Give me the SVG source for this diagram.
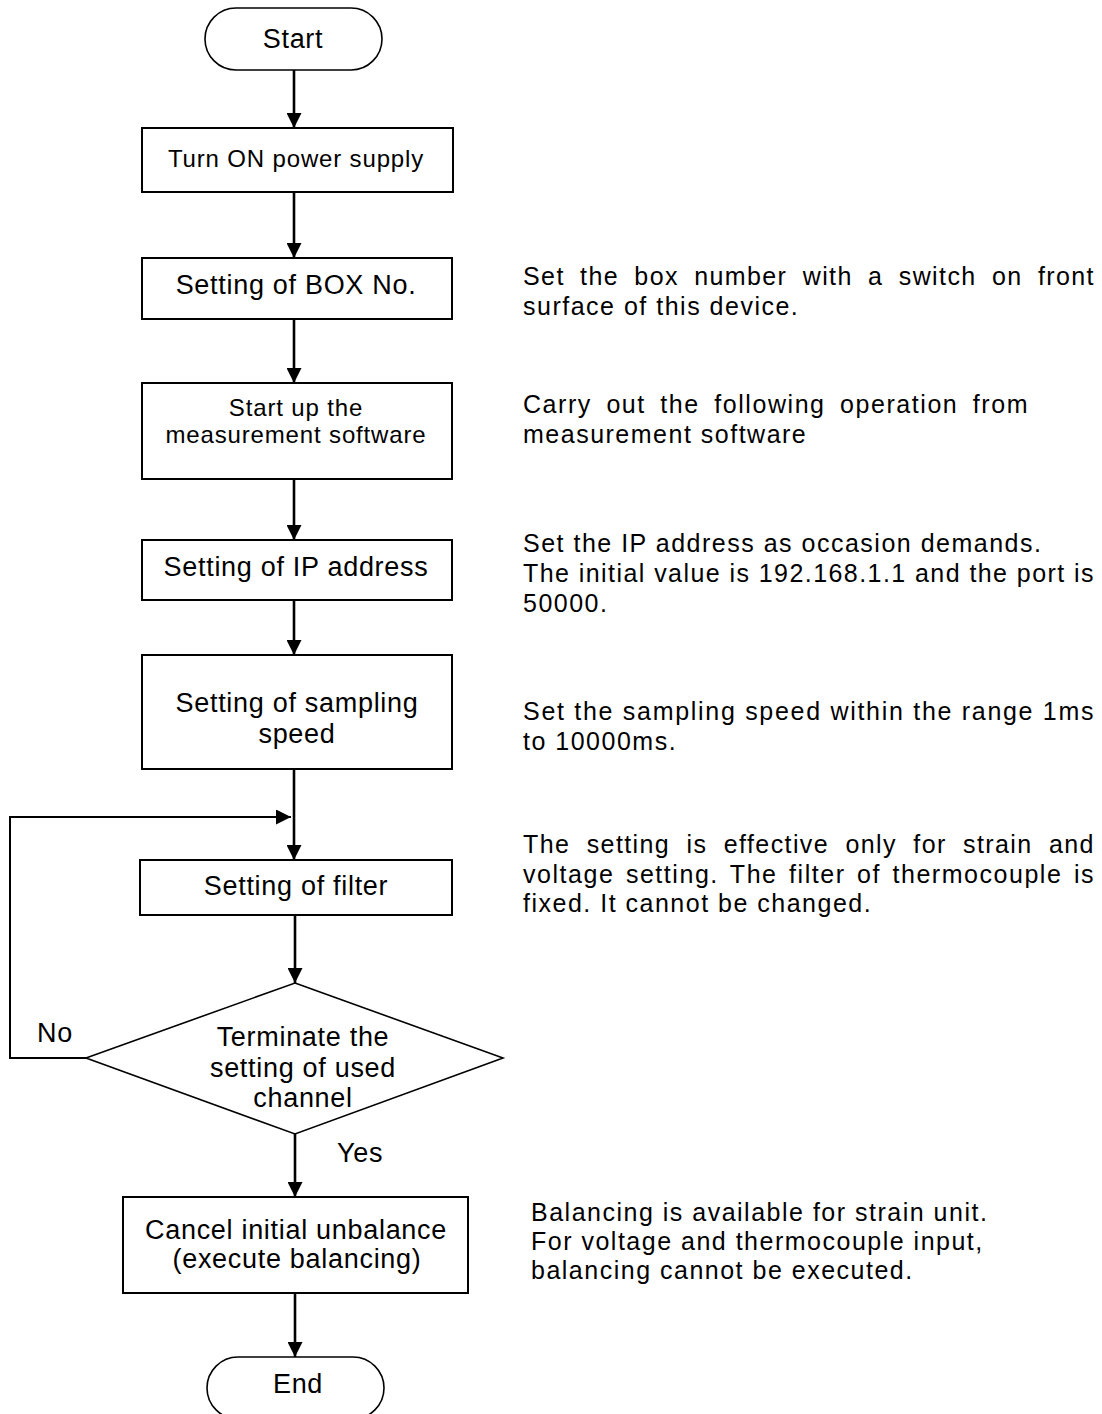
<svg xmlns="http://www.w3.org/2000/svg" width="1102" height="1414" viewBox="0 0 1102 1414">
<style>
text{font-family:"Liberation Sans",Arial,sans-serif;fill:#000}
.bt{font-size:27px;letter-spacing:0.7px;text-anchor:middle}
.st{font-size:24px;letter-spacing:0.85px;text-anchor:middle}
.side{font-size:25px;letter-spacing:1.5px}
.box{fill:#fff;stroke:#000;stroke-width:2}
.pill{fill:#fff;stroke:#000;stroke-width:1.6}
.flow{fill:none;stroke:#000;stroke-width:2.6}
.loop{fill:none;stroke:#000;stroke-width:2}
</style>
<defs>
<marker id="ah" markerUnits="userSpaceOnUse" viewBox="0 0 15 15" refX="15" refY="7.5" markerWidth="15" markerHeight="15" orient="auto">
<path d="M0,0 L15,7.5 L0,15 z" fill="#000"/>
</marker>
</defs>
<g id="connectors">
<line class="flow" x1="294" y1="70" x2="294" y2="128" marker-end="url(#ah)"/>
<line class="flow" x1="294" y1="192" x2="294" y2="258" marker-end="url(#ah)"/>
<line class="flow" x1="294" y1="319" x2="294" y2="383" marker-end="url(#ah)"/>
<line class="flow" x1="294" y1="479" x2="294" y2="540" marker-end="url(#ah)"/>
<line class="flow" x1="294" y1="600" x2="294" y2="655" marker-end="url(#ah)"/>
<line class="flow" x1="294" y1="769" x2="294" y2="860" marker-end="url(#ah)"/>
<line class="flow" x1="295" y1="915" x2="295" y2="983" marker-end="url(#ah)"/>
<line class="flow" x1="295" y1="1134" x2="295" y2="1197" marker-end="url(#ah)"/>
<line class="flow" x1="295" y1="1293" x2="295" y2="1357" marker-end="url(#ah)"/>
<polyline class="loop" points="86,1058 10,1058 10,817 291,817" marker-end="url(#ah)"/>
<text x="37" y="1042" class="bt" style="text-anchor:start">No</text>
<text x="337" y="1162" class="bt" style="text-anchor:start">Yes</text>
</g>
<g id="start">
<rect class="pill" x="205" y="8" width="177" height="62" rx="31" ry="31"/>
<text x="293" y="48" class="bt">Start</text>
</g>
<g id="power">
<rect class="box" x="142" y="128" width="311" height="64"/>
<text x="296" y="167" class="st">Turn ON power supply</text>
</g>
<g id="boxno">
<rect class="box" x="142" y="258" width="310" height="61"/>
<text x="296" y="294" class="bt">Setting of BOX No.</text>
</g>
<g id="software">
<rect class="box" x="142" y="383" width="310" height="96"/>
<text x="296" y="416" class="st">Start up the</text>
<text x="296" y="443" class="st">measurement software</text>
</g>
<g id="ip">
<rect class="box" x="142" y="540" width="310" height="60"/>
<text x="296" y="576" class="bt">Setting of IP address</text>
</g>
<g id="sampling">
<rect class="box" x="142" y="655" width="310" height="114"/>
<text x="297" y="712" class="bt">Setting of sampling</text>
<text x="297" y="743" class="bt">speed</text>
</g>
<g id="filter">
<rect class="box" x="140" y="860" width="312" height="55"/>
<text x="296" y="895" class="bt">Setting of filter</text>
</g>
<g id="decision">
<polygon points="295,983 503,1058 295,1134 86,1058" fill="#fff" stroke="#000" stroke-width="1.6"/>
<text x="303" y="1046" class="bt">Terminate the</text>
<text x="303" y="1077" class="bt">setting of used</text>
<text x="303" y="1107" class="bt">channel</text>
</g>
<g id="balance">
<rect class="box" x="123" y="1197" width="345" height="96"/>
<text x="296" y="1239" class="bt">Cancel initial unbalance</text>
<text x="297" y="1268" class="bt">(execute balancing)</text>
</g>
<g id="end">
<rect class="pill" x="207" y="1357" width="177" height="62" rx="31" ry="31"/>
<text x="298" y="1393" class="bt">End</text>
</g>
<g id="notes">
<text x="523" y="285" class="side" textLength="572" style="word-spacing:7px">Set the box number with a switch on front</text>
<text x="523" y="315" class="side">surface of this device.</text>
<text x="523" y="413" class="side" textLength="506" style="word-spacing:6px">Carry out the following operation from</text>
<text x="523" y="443" class="side">measurement software</text>
<text x="523" y="552" class="side">Set the IP address as occasion demands.</text>
<text x="523" y="582" class="side" textLength="572">The initial value is 192.168.1.1 and the port is</text>
<text x="523" y="612" class="side">50000.</text>
<text x="523" y="720" class="side" textLength="572">Set the sampling speed within the range 1ms</text>
<text x="523" y="750" class="side">to 10000ms.</text>
<text x="523" y="853" class="side" textLength="572" style="word-spacing:8px">The setting is effective only for strain and</text>
<text x="523" y="883" class="side" textLength="572" style="word-spacing:3px">voltage setting. The filter of thermocouple is</text>
<text x="523" y="912" class="side">fixed. It cannot be changed.</text>
<text x="531" y="1221" class="side">Balancing is available for strain unit.</text>
<text x="531" y="1250" class="side">For voltage and thermocouple input,</text>
<text x="531" y="1279" class="side">balancing cannot be executed.</text>
</g>
</svg>
